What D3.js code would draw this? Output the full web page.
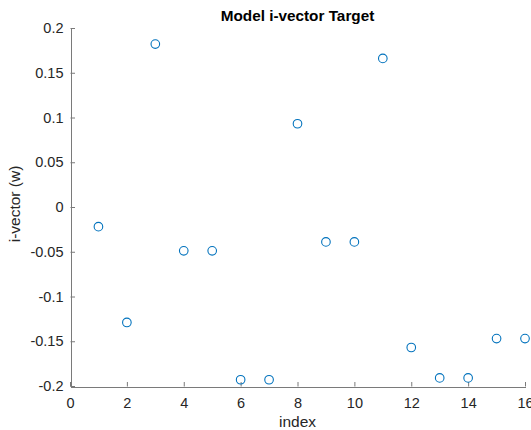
<!DOCTYPE html>
<html>
<head>
<meta charset="utf-8">
<script src="https://cdn.jsdelivr.net/npm/d3@7/dist/d3.min.js"></script>
<style>
  html, body { margin: 0; padding: 0; background: #fff; }
  svg { display: block; font-family: "Liberation Sans", Arial, Helvetica, sans-serif; }
</style>
</head>
<body>
<svg id="chart" width="531" height="430"></svg>
<script>
// Sample index and target i-vector component values
const indices = [1, 2, 3, 4, 5, 6, 7, 8, 9, 10, 11, 12, 13, 14, 15, 16];
const values = [-0.022, -0.129, 0.182, -0.049, -0.049, -0.193, -0.193, 0.093,
                -0.039, -0.039, 0.166, -0.157, -0.191, -0.191, -0.147, -0.147];
const xTicks = [0, 2, 4, 6, 8, 10, 12, 14, 16];
const yTicks = [-0.2, -0.15, -0.1, -0.05, 0, 0.05, 0.1, 0.15, 0.2];
const titleText = "Model i-vector Target";
const xLabelText = "index";
const yLabelText = "i-vector (w)";

const svg = d3.select("#chart");
const plot = { left: 70, right: 525, top: 28, bottom: 386 };

const x = d3.scaleLinear().domain([0, 16]).range([plot.left, plot.right]);
const y = d3.scaleLinear().domain([-0.2, 0.2]).range([plot.bottom, plot.top]);

const axisColor = "#7a7a7a";
const textColor = "#262626";
const fmt = d => String(+d.toFixed(2)); // plain hyphen-minus for negatives

// x axis (ticks point into the plot)
const gx = svg.append("g")
  .attr("transform", `translate(0,${plot.bottom + 0.5})`)
  .call(d3.axisBottom(x).tickValues(xTicks).tickFormat(fmt)
        .tickSizeInner(-4.5).tickSizeOuter(0).tickPadding(11.5));

// y axis
const gy = svg.append("g")
  .attr("transform", `translate(${plot.left + 0.5},0)`)
  .call(d3.axisLeft(y).tickValues(yTicks).tickFormat(fmt)
        .tickSizeInner(-4.5).tickSizeOuter(0).tickPadding(7));

[gx, gy].forEach(g => {
  g.selectAll(".domain").attr("stroke", axisColor).attr("shape-rendering", "crispEdges");
  g.selectAll(".tick line").attr("stroke", axisColor);
  g.selectAll(".tick text").attr("fill", textColor).style("font-size", "14.5px");
});

// markers: open circles
svg.append("g")
  .selectAll("circle")
  .data(indices.map((d, i) => ({ i: d, v: values[i] })))
  .join("circle")
  .attr("cx", d => x(d.i))
  .attr("cy", d => y(d.v))
  .attr("r", 4.3)
  .attr("fill", "none")
  .attr("stroke", "#0072BD")
  .attr("stroke-width", 1.1);

// title
svg.append("text")
  .attr("x", (plot.left + plot.right) / 2)
  .attr("y", 21)
  .attr("text-anchor", "middle")
  .style("font-size", "15.3px")
  .style("font-weight", "bold")
  .attr("fill", "#000")
  .text(titleText);

// x label
svg.append("text")
  .attr("x", (plot.left + plot.right) / 2)
  .attr("y", 427)
  .attr("text-anchor", "middle")
  .style("font-size", "15.5px")
  .attr("fill", textColor)
  .text(xLabelText);

// y label
svg.append("text")
  .attr("transform", `translate(20,${(plot.top + plot.bottom) / 2 - 3}) rotate(-90)`)
  .attr("text-anchor", "middle")
  .style("font-size", "15.5px")
  .attr("fill", textColor)
  .text(yLabelText);
</script>
</body>
</html>
